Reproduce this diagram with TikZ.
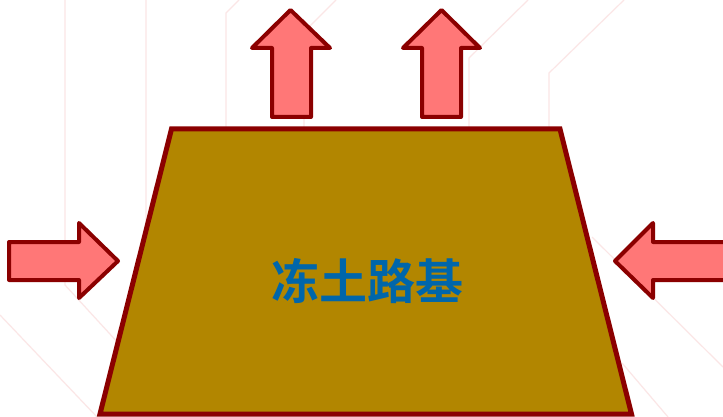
\documentclass[tikz,border=0pt]{standalone}
\usepackage{fontspec}
\newfontfamily\cjkbold[BoldFont={Noto Sans CJK SC Bold}]{Noto Sans CJK SC}
\definecolor{edgered}{HTML}{8B0000}
\definecolor{arrowfill}{HTML}{FF7777}
\definecolor{soilfill}{HTML}{B28600}
\definecolor{textblue}{HTML}{0066AA}
\definecolor{bgline}{HTML}{FBE6E6}
\begin{document}
\begin{tikzpicture}[x=1pt,y=-1pt,
  bgl/.style={draw=bgline,line width=1.2pt},
  bigarrow/.style={draw=edgered,fill=arrowfill,line width=4pt,line join=round},
  soil/.style={draw=edgered,fill=soilfill,line width=5pt,line join=miter},
  label/.style={text=textblue,font=\cjkbold\bfseries\fontsize{48}{52}\selectfont,inner sep=0pt}]
\useasboundingbox (0,0) rectangle (723,417);
\fill[white] (0,0) rectangle (723,417);
% faint background lines
\draw[bgl] (65,0) -- (65,285) -- (120,345);
\draw[bgl] (0,315) -- (97,417);
\draw[bgl] (146,0) -- (146,235) -- (160,252);
\draw[bgl] (226,127) -- (226,13) -- (239,0);
\draw[bgl] (304,127) -- (304,32) -- (336,0);
\draw[bgl] (469,127) -- (469,58) -- (528,0);
\draw[bgl] (549,127) -- (549,73) -- (624,0);
\draw[bgl] (592,237) -- (723,367);
\draw[bgl] (622,363) -- (668,417);
% trapezoid
\draw[soil] (171.5,129) -- (560,129) -- (631.5,414) -- (100,414) -- cycle;
\node[label] (t) at (367.5,281) {冻土路基};
% up arrows
\draw[bigarrow] (290.5,10) -- (330,48) -- (311,48) -- (311,117) -- (272,117) -- (272,48) -- (252,48) -- cycle;
\draw[bigarrow] (441.5,10) -- (480,48) -- (461,48) -- (461,117) -- (422,117) -- (422,48) -- (403,48) -- cycle;
% left arrow
\draw[bigarrow] (118,261) -- (79,298) -- (79,280) -- (9,280) -- (9,242) -- (79,242) -- (79,223) -- cycle;
% right arrow
\draw[bigarrow] (615,261) -- (653,223) -- (653,242) -- (728,242) -- (728,280) -- (653,280) -- (653,298) -- cycle;
\end{tikzpicture}
\end{document}
